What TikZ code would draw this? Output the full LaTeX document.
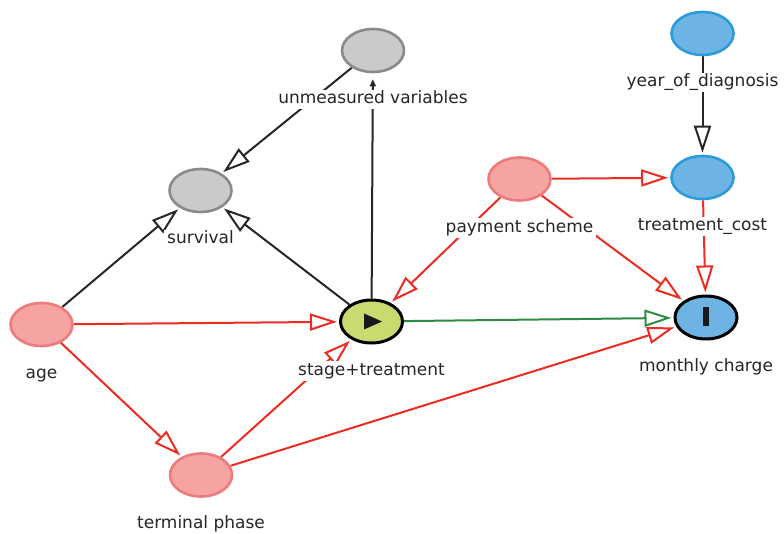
\documentclass[tikz,border=0pt]{standalone}
\usepackage{fontspec}
\setmainfont{DejaVu Sans}
\usetikzlibrary{calc}
\usetikzlibrary{arrows.meta}
\usetikzlibrary{positioning}
\usetikzlibrary{shapes.geometric}
\usetikzlibrary{backgrounds}
\usepackage{xcolor}

\definecolor{pinkfill}{HTML}{F5A3A3}
\definecolor{pinkline}{HTML}{EE7B7B}
\definecolor{grayfill}{HTML}{C9CACC}
\definecolor{grayline}{HTML}{8A8A8A}
\definecolor{bluefill}{HTML}{6DB4E4}
\definecolor{blueline}{HTML}{2D9BD8}
\definecolor{stagefill}{HTML}{C9DB70}
\definecolor{redline}{HTML}{EC2B22}
\definecolor{greenline}{HTML}{2E8B43}
\definecolor{txt}{HTML}{262626}

\tikzset{
 var/.style={ellipse, minimum width=62pt, minimum height=43pt, line width=2.6pt, inner sep=0pt},
 pinkvar/.style={var, draw=pinkline, fill=pinkfill},
 grayvar/.style={var, draw=grayline, fill=grayfill},
 bluevar/.style={var, draw=blueline, fill=bluefill},
 lbl/.style={fill=white, inner xsep=3pt, inner ysep=1.5pt, text=txt, text height=12.5pt, text depth=4pt,
  font=\fontsize{17}{20}\selectfont},
 tip/.style={-{Triangle[open, length=27pt, width=17pt]}, shorten >=2pt},
 blkarc/.style={tip, line width=2pt, draw=black!85},
 redarc/.style={tip, line width=2pt, draw=redline},
 grnarc/.style={tip, line width=2pt, draw=greenline}
}

\begin{document}
\begin{tikzpicture}[x=1pt, y=-1pt]
\useasboundingbox (0,0) rectangle (784,534);
\node[grayvar] (unmeas) at (373,50.5) {};
\node[grayvar] (surv) at (200.5,190.5) {};
\node[pinkvar] (age) at (41.5,324.5) {};
\node[var, draw=black, line width=3pt, fill=stagefill] (stage) at (371.5,321.5) {};
\node[pinkvar] (term) at (201,475) {};
\node[pinkvar] (pay) at (519.5,179) {};
\node[bluevar] (year) at (702.5,33.5) {};
\node[bluevar] (cost) at (702.5,177.5) {};
\node[var, draw=black, line width=3pt, fill=bluefill] (charge) at (706,317.5) {};

\fill[black!90] ($(stage)+(-7.5,-8)$) -- ++(0,16) -- ++(18,-8) -- cycle;
\fill[black!90] ($(charge)+(-3,-10.5)$) rectangle ++(6,19);

\node[lbl, below=16.5pt of unmeas] (unmeas-lbl) {unmeasured variables};
\node[lbl, below=16.5pt of surv] (surv-lbl) {survival};
\node[lbl, below=16.5pt of age] (age-lbl) {age};
\node[lbl, below=16.5pt of stage] (stage-lbl) {stage+treatment};
\node[lbl, below=16.5pt of term] (term-lbl) {terminal phase};
\node[lbl, below=16.5pt of pay] (pay-lbl) {payment scheme};
\node[lbl, below=16.5pt of year] (year-lbl) {year\_of\_diagnosis};
\node[lbl, below=16.5pt of cost] (cost-lbl) {treatment\_cost};
\node[lbl, below=16.5pt of charge] (charge-lbl) {monthly charge};

\begin{scope}[on background layer]
\draw[line width=2pt, draw=black!85, -{Triangle[length=7pt, width=6pt]}, shorten >=6pt] (stage) -- (unmeas);
\draw[blkarc] (unmeas) -- (surv);
\draw[blkarc] (age) -- (surv);
\draw[blkarc] (stage) -- (surv);
\draw[blkarc] (year) -- (cost);
\draw[redarc] (age) -- (stage);
\draw[redarc] (age) -- (term);
\draw[redarc] (term) -- (stage);
\draw[redarc] (term) -- (charge);
\draw[redarc] (pay) -- (stage);
\draw[redarc] (pay) -- (cost);
\draw[redarc] (pay) -- (charge);
\draw[redarc] (cost) -- (charge);
\draw[grnarc] (stage) -- (charge);
\end{scope}
\end{tikzpicture}
\end{document}
